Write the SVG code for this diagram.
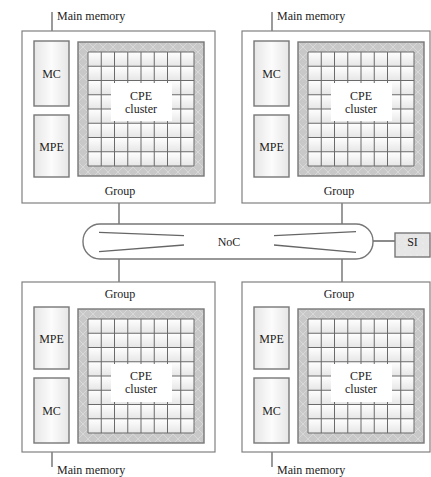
<svg xmlns="http://www.w3.org/2000/svg" width="431" height="477" viewBox="0 0 431 477">
<style>
text{font-family:"Liberation Serif","Times New Roman",serif;font-size:12px;fill:#222;}
.c{text-anchor:middle;}
.grp{fill:#fff;stroke:#808080;stroke-width:1.2;}
.box{fill:url(#boxg);stroke:#777;stroke-width:1.4;}
.ln{stroke:#666;stroke-width:1.3;fill:none;}
.gl{stroke:#6a6a6a;stroke-width:1;}
</style>
<defs>
<linearGradient id="boxg" x1="0" y1="0" x2="1" y2="0">
<stop offset="0" stop-color="#e6e6e6"/><stop offset="0.5" stop-color="#fcfcfc"/><stop offset="1" stop-color="#e6e6e6"/>
</linearGradient>
<linearGradient id="cellg" x1="0" y1="0" x2="0" y2="1">
<stop offset="0" stop-color="#ffffff"/><stop offset="1" stop-color="#e6e6e6"/>
</linearGradient>
<pattern id="hatch" patternUnits="userSpaceOnUse" width="10" height="10">
<rect width="10" height="10" fill="#c8c8c8"/>
<path d="M0 0L10 10M10 0L0 10" stroke="#dcdcdc" stroke-width="0.8"/>
</pattern>
<pattern id="cell" patternUnits="userSpaceOnUse" x="10" y="10" width="13.25" height="14.25">
<rect width="13.25" height="14.25" fill="url(#cellg)"/>
</pattern>
<pattern id="dots" patternUnits="userSpaceOnUse" width="6" height="6">
<rect width="6" height="6" fill="#e6e6e6"/>
<circle cx="3" cy="3" r="0.6" fill="#f6f6f6"/>
</pattern>
<g id="gridlines">
<rect x="0" y="0" width="126" height="134" fill="url(#hatch)" stroke="#777" stroke-width="1.4"/>
<rect x="10" y="10" width="106" height="114" fill="url(#cell)"/>
<path class="gl" d="M10 10V124M23.25 10V124M36.5 10V124M49.75 10V124M63 10V124M76.25 10V124M89.5 10V124M102.75 10V124M116 10V124M10 10H116M10 24.25H116M10 38.5H116M10 52.75H116M10 67H116M10 81.25H116M10 95.5H116M10 109.75H116M10 124H116"/>
</g>
<g id="cpeTop">
<use href="#gridlines"/>
<rect x="33" y="41" width="61" height="38" fill="#fff"/>
</g>
<g id="cpeBot">
<use href="#gridlines"/>
<rect x="33" y="55" width="61" height="38" fill="#fff"/>
</g>
</defs>
<rect width="431" height="477" fill="#fff"/>

<g id="connectors">
<path class="ln" d="M52 12V41M272 12V41M52 443V467M272 443V467"/>
<path class="ln" d="M119 203V224M342 203V224M119 259V282M342 259V282M373 241H395"/>
</g>

<g id="group-tl">
<rect class="grp" x="22" y="31" width="193" height="172"/>
<rect class="box" x="34" y="41" width="35" height="65"/>
<rect class="box" x="34" y="115" width="35" height="62"/>
<use href="#cpeTop" transform="translate(78,42)"/>
<text x="57" y="20">Main memory</text>
<text class="c" x="51.5" y="77.5">MC</text>
<text class="c" x="51.5" y="150.5">MPE</text>
<text class="c" x="141" y="100">CPE</text>
<text class="c" x="141" y="112.5">cluster</text>
<text class="c" x="120" y="195">Group</text>
</g>

<g id="group-tr">
<rect class="grp" x="242" y="31" width="188" height="172"/>
<rect class="box" x="254" y="41" width="35" height="65"/>
<rect class="box" x="254" y="115" width="35" height="62"/>
<use href="#cpeTop" transform="translate(298,42)"/>
<text x="277" y="20">Main memory</text>
<text class="c" x="271.5" y="77.5">MC</text>
<text class="c" x="271.5" y="150.5">MPE</text>
<text class="c" x="361" y="100">CPE</text>
<text class="c" x="361" y="112.5">cluster</text>
<text class="c" x="339" y="195">Group</text>
</g>

<g id="group-bl">
<rect class="grp" x="22" y="282" width="193" height="170"/>
<rect class="box" x="34" y="307" width="35" height="62"/>
<rect class="box" x="34" y="378" width="35" height="65"/>
<use href="#cpeBot" transform="translate(78,309)"/>
<text class="c" x="120" y="298">Group</text>
<text class="c" x="51.5" y="342.5">MPE</text>
<text class="c" x="51.5" y="414.5">MC</text>
<text class="c" x="141" y="380">CPE</text>
<text class="c" x="141" y="392.5">cluster</text>
<text x="57" y="474">Main memory</text>
</g>

<g id="group-br">
<rect class="grp" x="242" y="282" width="188" height="170"/>
<rect class="box" x="254" y="307" width="35" height="62"/>
<rect class="box" x="254" y="378" width="35" height="65"/>
<use href="#cpeBot" transform="translate(298,309)"/>
<text class="c" x="339" y="298">Group</text>
<text class="c" x="271.5" y="342.5">MPE</text>
<text class="c" x="271.5" y="414.5">MC</text>
<text class="c" x="361" y="380">CPE</text>
<text class="c" x="361" y="392.5">cluster</text>
<text x="277" y="474">Main memory</text>
</g>

<g id="noc">
<rect x="83" y="224" width="290" height="35" rx="17" fill="#fff" stroke="#777" stroke-width="1.4"/>
<path class="ln" d="M99 232.3L184 235.7M99 251.7L184 245M274 235.7L356 231.7M274 245L356 252.3"/>
<text class="c" x="229" y="245.5">NoC</text>
</g>

<g id="si">
<rect x="395" y="233" width="35" height="24" fill="url(#dots)" stroke="#777" stroke-width="1.4"/>
<text class="c" x="412.5" y="245.5">SI</text>
</g>
</svg>
